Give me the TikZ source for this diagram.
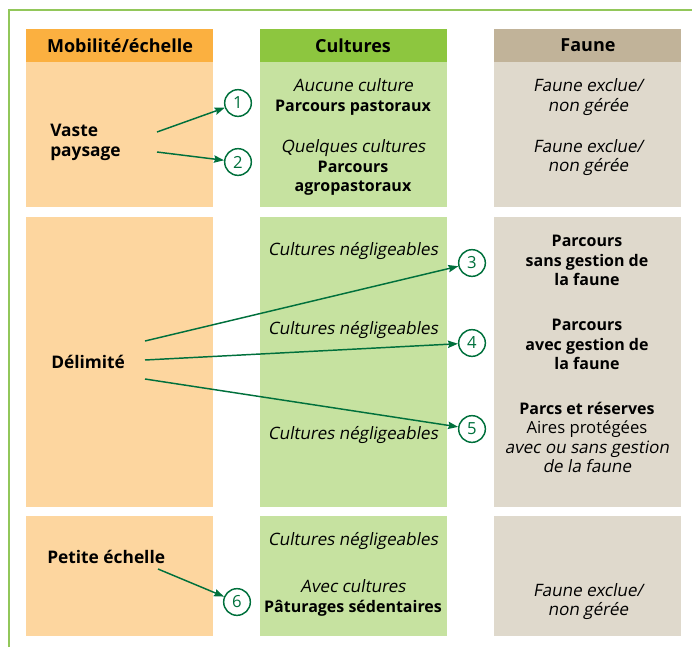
\documentclass[tikz,border=0pt]{standalone}
\usepackage{fontspec}
\setmainfont{Open Sans}
\newfontfamily\slfont{Open Sans}[FakeSlant=0.18]
\newcommand\ix[1]{{\slfont\fontsize{12.8}{14.5}\selectfont #1}}
\newcommand\rx[1]{{\fontsize{12.5}{14.5}\selectfont #1}}
\usetikzlibrary{arrows.meta}
\definecolor{orH}{HTML}{FBB040}
\definecolor{orB}{HTML}{FDD69F}
\definecolor{grH}{HTML}{8DC63F}
\definecolor{grB}{HTML}{C6E2A0}
\definecolor{brH}{HTML}{C1B399}
\definecolor{brB}{HTML}{DFD9CC}
\definecolor{arrowc}{HTML}{00703C}
\definecolor{framec}{HTML}{92C75A}
\begin{document}
\begin{tikzpicture}[x=0.75pt,y=-0.75pt,
  every node/.style={inner sep=0pt},
  body/.style={font=\fontsize{12}{14.5}\selectfont, align=center, text=black},
  lbody/.style={font=\fontsize{13}{14.5}\selectfont\bfseries, align=left, text=black, anchor=west},
  head/.style={font=\fontsize{13.5}{16}\selectfont\bfseries, text=black},
  num/.style={circle, draw=arrowc, line width=1.1pt, minimum size=20pt, text=arrowc, font=\fontsize{12.5}{13}\selectfont},
  arr/.style={draw=arrowc, line width=1.1pt, -{Stealth[length=7.5pt,width=5.5pt,inset=1pt]}}]
\useasboundingbox (0,0) rectangle (692,647);
\draw[framec, line width=1.2pt] (9,647) -- (9,10) -- (692,10);
% headers
\fill[orH] (26,29) rectangle (213,62);
\fill[grH] (260,29) rectangle (447,62);
\fill[brH] (494,29) rectangle (681,62);
% row 1
\fill[orB] (26,62) rectangle (213,207);
\fill[grB] (260,62) rectangle (447,207);
\fill[brB] (494,62) rectangle (681,207);
% row 2
\fill[orB] (26,217) rectangle (213,507);
\fill[grB] (260,217) rectangle (447,507);
\fill[brB] (494,217) rectangle (681,507);
% row 3
\fill[orB] (26,516) rectangle (213,636);
\fill[grB] (260,516) rectangle (447,636);
\fill[brB] (494,516) rectangle (681,636);

\node[head] (h1) at (120,45.5) {Mobilité/échelle};
\node[head] (h2) at (353,45.5) {Cultures};
\node[head] (h3) at (588,45.5) {Faune};

\node[lbody] (vaste) at (50,142.5) {Vaste\\paysage};
\node[lbody] (delim) at (51,362) {Délimité};
\node[lbody] (petite) at (47,557) {Petite échelle};

\node[body] (c2a) at (353,97) {\ix{Aucune culture}\\\textbf{Parcours pastoraux}};
\node[body] (c2b) at (353,167.5) {\ix{Quelques cultures}\\\textbf{Parcours}\\\textbf{agropastoraux}};
\node[body] (c3a) at (588,97) {\ix{Faune exclue/}\\\ix{non gérée}};
\node[body] (c3b) at (588,157.5) {\ix{Faune exclue/}\\\ix{non gérée}};

\node[body] (n1) at (353,251) {\ix{Cultures négligeables}};
\node[body] (n2) at (353,330) {\ix{Cultures négligeables}};
\node[body] (n3) at (353,435) {\ix{Cultures négligeables}};
\node[body] (f1) at (587,260.5) {\textbf{Parcours}\\\textbf{sans gestion de}\\\textbf{la faune}};
\node[body] (f2) at (587,344.5) {\textbf{Parcours}\\\textbf{avec gestion de}\\\textbf{la faune}};
\node[body] (f3) at (587,437.5) {\textbf{Parcs et réserves}\\\rx{Aires protégées}\\\ix{avec ou sans gestion}\\\ix{de la faune}};

\node[body] (n4) at (353,541) {\ix{Cultures négligeables}};
\node[body] (c2c) at (353,598) {\ix{Avec cultures}\\\textbf{Pâturages sédentaires}};
\node[body] (c3c) at (588,601.5) {\ix{Faune exclue/}\\\ix{non gérée}};

\node[num] (k1) at (238,103) {1};
\node[num] (k2) at (238,162) {2};
\node[num] (k3) at (472,263) {3};
\node[num] (k4) at (472,343) {4};
\node[num] (k5) at (472,429) {5};
\node[num] (k6) at (237,602) {6};

\coordinate (s1) at (157,132);
\coordinate (s2) at (157,152);
\coordinate (s3) at (145,341);
\coordinate (s4) at (145,360);
\coordinate (s5) at (145,379);
\coordinate (s6) at (158,569);
\draw[arr] (s1) -- (k1);
\draw[arr] (s2) -- (k2);
\draw[arr] (s3) -- (k3);
\draw[arr] (s4) -- (k4);
\draw[arr] (s5) -- (k5);
\draw[arr] (s6) -- (k6);
\end{tikzpicture}
\end{document}
